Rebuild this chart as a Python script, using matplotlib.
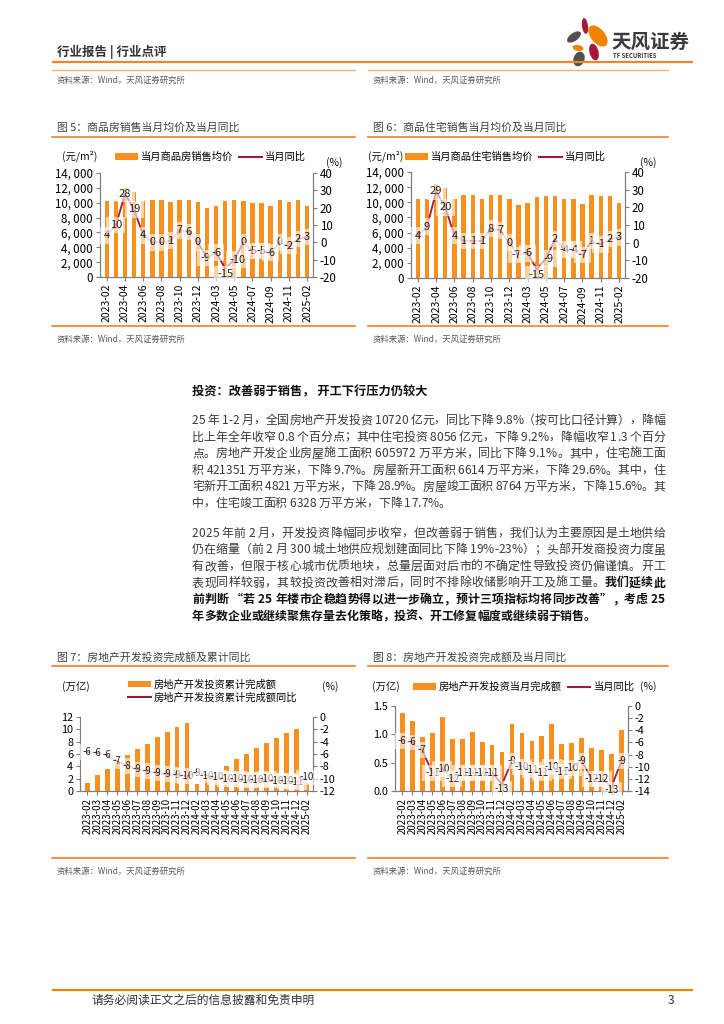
import matplotlib
matplotlib.use('Agg')
import matplotlib.pyplot as plt
from matplotlib.patches import Ellipse, Patch
from matplotlib.lines import Line2D
import numpy as np

plt.rcParams['font.family'] = ['Noto Sans CJK SC', 'DejaVu Sans']
plt.rcParams['axes.unicode_minus'] = False

W, H = 724, 1024
ORANGE = '#F7901E'
RED = '#A3193B'
TXT = '#3A3A3A'

# ---- data ----
months_ab = ['2023-02', '2023-03', '2023-04', '2023-05', '2023-06', '2023-07', '2023-08',
             '2023-09', '2023-10', '2023-11', '2023-12', '2024-02', '2024-03', '2024-04',
             '2024-05', '2024-06', '2024-07', '2024-08', '2024-09', '2024-10', '2024-11',
             '2024-12', '2025-02']

price_all = [10200, 10200, 12000, 11400, 10200, 10400, 10400, 10100, 10400, 10300, 10100, 9300,
             9600, 10200, 10300, 10200, 9900, 9900, 9500, 10400, 10100, 10300, 9600]
yoy_all = [4, 10, 28, 19, 4, 0, 0, 1, 7, 6, 0, -9, -6, -15, -10, 0, -5, -5, -6, 0, -2, 2, 3]

price_res = [10500, 10500, 12400, 11900, 10500, 10900, 10900, 10500, 10900, 10900, 10500, 9700,
             9900, 10700, 10800, 10800, 10400, 10400, 9800, 11000, 10800, 10800, 9900]
yoy_res = [4, 9, 29, 20, 4, 1, 1, 1, 8, 7, 0, -7, -6, -15, -9, 2, -4, -4, -7, 1, -1, 2, 3]

inv_cum = [1.36, 2.62, 3.60, 4.59, 5.86, 6.80, 7.68, 8.71, 9.60, 10.43, 11.09, 1.17, 2.20, 3.02,
           4.07, 5.25, 6.07, 6.93, 7.86, 8.63, 9.35, 10.03, 1.07]
inv_cum_yoy = [-5.7, -5.8, -6.2, -7.2, -7.9, -8.5, -8.8, -9.1, -9.3, -9.4, -9.6, -9.0, -9.5, -9.8,
               -10.1, -10.1, -10.2, -10.2, -10.1, -10.3, -10.4, -10.6, -9.8]

inv_mon = [1.37, 1.23, 0.95, 1.02, 1.30, 0.92, 0.92, 1.05, 0.86, 0.82, 0.68, 1.19, 1.02, 0.89,
           0.97, 1.19, 0.83, 0.85, 0.94, 0.76, 0.72, 0.66, 1.07]
inv_mon_yoy = [-5.8, -6.0, -7.3, -11.0, -10.4, -12.0, -11.0, -11.0, -11.0, -11.0, -12.9, -9.0,
               -10.0, -10.6, -11.0, -10.0, -10.8, -10.2, -9.0, -12.0, -12.0, -13.3, -9.0]

para1 = [
    [("25 年 1-2 月，全国房地产开发投资 10720 亿元，同比下降 9.8%（按可比口径计算），降幅", False)],
    [("比上年全年收窄 0.8 个百分点；其中住宅投资 8056 亿元，下降 9.2%，降幅收窄 1.3 个百分", False)],
    [("点。房地产开发企业房屋施工面积 605972 万平方米，同比下降 9.1%。其中，住宅施工面", False)],
    [("积 421351 万平方米，下降 9.7%。房屋新开工面积 6614 万平方米，下降 29.6%。其中，住", False)],
    [("宅新开工面积 4821 万平方米，下降 28.9%。房屋竣工面积 8764 万平方米，下降 15.6%。其", False)],
    [("中，住宅竣工面积 6328 万平方米，下降 17.7%。", False)],
]
para2 = [
    [("2025 年前 2 月，开发投资降幅同步收窄，但改善弱于销售，我们认为主要原因是土地供给", False)],
    [("仍在缩量（前 2 月 300 城土地供应规划建面同比下降 19%-23%）；头部开发商投资力度虽", False)],
    [("有改善，但限于核心城市优质地块，总量层面对后市的不确定性导致投资仍偏谨慎。开工", False)],
    [("表现同样较弱，其较投资改善相对滞后，同时不排除收储影响开工及施工量。", False), ("我们延续此", True)],
    [("前判断 “若 25 年楼市企稳趋势得以进一步确立，预计三项指标均将同步改善”，考虑 25", True)],
    [("年多数企业或继续聚焦存量去化策略，投资、开工修复幅度或继续弱于销售。", True)],
]

fig = plt.figure(figsize=(W / 100, H / 100), dpi=100)
page = fig.add_axes([0, 0, 1, 1])
page.set_xlim(0, W)
page.set_ylim(H, 0)
page.axis('off')


def rect(l, t, r, b):
    return [l / W, 1 - b / H, (r - l) / W, (b - t) / H]


def fx(x):
    return x / W


def fy(y):
    return 1 - y / H


def excel_round(v):
    return int(np.sign(v) * np.floor(abs(v) + 0.5))


# ---- page furniture ----
page.text(57, 52, '行业报告 | 行业点评', fontsize=9, fontweight='bold', color='#333333', va='center')
page.plot([53, 692], [62, 62], color='#F0842A', lw=1.6)
for a, b in [(52, 355), (368, 668)]:
    page.plot([a, b], [70, 70], color='#F6B07A', lw=1.0)
    page.text(a + 5, 80, '资料来源：Wind，天风证券研究所', fontsize=6, color='#595959', va='center')

# logo
for (cx, cy, w, h, ang, col) in [(585, 26, 6, 16, -8, '#A6193E'),
                                 (574, 37, 16, 8, -35, '#505050'),
                                 (598, 36, 25, 14, 50, '#F08300'),
                                 (578, 48, 11, 6, 10, '#F08300'),
                                 (594, 52, 9, 17, -15, '#A6193E'),
                                 (579, 59, 11, 15, 20, '#505050')]:
    page.add_patch(Ellipse((cx, cy), w, h, angle=ang, color=col, lw=0))
page.text(611, 42, '天风证券', fontsize=14, fontweight='bold', color='#3A3A3A', va='center')
page.text(613, 56, 'TF SECURITIES', fontsize=4.3, fontweight='bold', color='#3A3A3A', va='center')

titles = [(52, 355, 128, '图 5：商品房销售当月均价及当月同比'),
          (368, 668, 128, '图 6：商品住宅销售当月均价及当月同比'),
          (52, 355, 657, '图 7：房地产开发投资完成额及累计同比'),
          (368, 668, 657, '图 8：房地产开发投资完成额及当月同比')]
for a, b, y, t in titles:
    page.text(a + 5, y, t, fontsize=7.8, color='#404040', va='center')
    page.plot([a, b], [y + 9, y + 9], color='#F0842A', lw=1.2)

for y in [326, 858]:
    for a, b in [(52, 355), (368, 668)]:
        page.plot([a, b], [y, y], color='#F0842A', lw=1.2)
        page.text(a + 5, y + 13, '资料来源：Wind，天风证券研究所', fontsize=6, color='#595959', va='center')

page.plot([53, 692], [990, 990], color='#F08300', lw=1.6)
page.text(92, 1000, '请务必阅读正文之后的信息披露和免责申明', fontsize=8.5, color='#333333', va='center')
page.text(668, 1000, '3', fontsize=8.5, color='#333333', va='center')

# ---- body text (justified) ----
renderer = fig.canvas.get_renderer()
_wcache = {}


def char_w(c, bold, size):
    key = (c, bold, size)
    if key not in _wcache:
        wt = 'bold' if bold else 'normal'
        if c == ' ':
            t1 = page.text(0, 0, 'a a', fontsize=size, fontweight=wt)
            t2 = page.text(0, 0, 'aa', fontsize=size, fontweight=wt)
            w = t1.get_window_extent(renderer).width - t2.get_window_extent(renderer).width
            t1.remove()
            t2.remove()
        else:
            t = page.text(0, 0, c, fontsize=size, fontweight=wt)
            w = t.get_window_extent(renderer).width
            t.remove()
        _wcache[key] = w
    return _wcache[key]


def text_line(x0, ybase, segs, size, target=None):
    chars = [(c, b) for s, b in segs for c in s]
    ws = [char_w(c, b, size) for c, b in chars]
    extra = 0.0
    if target is not None:
        extra = (target - sum(ws)) / (len(chars) - 1)
    x = x0
    for (c, b), w in zip(chars, ws):
        if c != ' ':
            page.text(x, ybase, c, fontsize=size, fontweight='bold' if b else 'normal',
                      color='#111111' if b else TXT, va='baseline', ha='left')
        x += w + extra


BODY = 8.6
X0, X1 = 192, 665
page.text(X0, 392, '投资：改善弱于销售， 开工下行压力仍较大', fontsize=8.8, fontweight='bold',
          color='#111111', va='center')
step = 16.6
y = 424
for i, segs in enumerate(para1):
    last = i == len(para1) - 1
    text_line(X0, y, segs, BODY, None if last else X1 - X0)
    y += step
y += 13
for i, segs in enumerate(para2):
    last = i == len(para2) - 1
    text_line(X0, y, segs, BODY, None if last else X1 - X0)
    y += step


# ---- charts ----
def combo(px, labels, bars, line, ylim1, yt1, fmt1, ylim2, yt2, every, lab_size, xlab_size,
          ylab_size, nudge=None):
    nudge = nudge or {}
    ax = fig.add_axes(rect(*px))
    x = np.arange(len(labels))
    ax.bar(x, bars, width=0.48, color=ORANGE, zorder=1)
    ax.set_xlim(-0.75, len(labels) - 0.35)
    ax.set_ylim(*ylim1)
    ax.set_yticks(yt1)
    ax.set_yticklabels([fmt1(v) for v in yt1])
    ax2 = ax.twinx()
    ax2.plot(x, line, color=RED, lw=1.3, zorder=2)
    ax2.set_ylim(*ylim2)
    ax2.set_yticks(yt2)
    for i, v in enumerate(line):
        dx, dy = nudge.get(i, (0, 0))
        ax2.text(i + dx, v + dy, str(excel_round(v)), ha='center', va='center', fontsize=lab_size,
                 color='#222222', zorder=3,
                 bbox=dict(boxstyle='square,pad=0.3', fc='white', ec='none', alpha=0.6))
    ticks = x[::every]
    ax.set_xticks(ticks)
    ax.set_xticklabels([labels[i] for i in ticks], rotation=90)
    for a in (ax, ax2):
        a.spines['top'].set_visible(False)
        for s in ('left', 'right', 'bottom'):
            a.spines[s].set_color('#7F7F7F')
            a.spines[s].set_linewidth(0.8)
        a.tick_params(axis='both', direction='out', length=3, width=0.8, color='#7F7F7F',
                      labelsize=ylab_size, pad=2)
        a.patch.set_visible(False)
    ax.tick_params(axis='x', labelsize=xlab_size)
    return ax, ax2


def legend(x, y, items, ncol, size=7.4):
    handles = []
    for kind, _ in items:
        if kind == 'bar':
            handles.append(Patch(fc=ORANGE, ec='none'))
        else:
            handles.append(Line2D([], [], color=RED, lw=1.5))
    fig.legend(handles, [t for _, t in items], loc='center left',
               bbox_to_anchor=(fx(x), fy(y)), bbox_transform=fig.transFigure, ncol=ncol,
               frameon=False, fontsize=size, handlelength=2.2, handleheight=0.55,
               handletextpad=0.3, columnspacing=0.6, borderpad=0, borderaxespad=0,
               labelspacing=0.25)


comma = lambda v: f'{v:,.0f}'.replace(',', ', ')
combo((100, 173, 313, 277), months_ab, price_all, yoy_all, (0, 14000), range(0, 14001, 2000),
      comma, (-20, 40), range(-20, 41, 10), 2, 8.0, 7.5, 8.3,
      nudge={13: (0, -3.2), 14: (0.35, 0), 11: (-0.2, 0)})
combo((411, 172, 625, 278), months_ab, price_res, yoy_res, (0, 14000), range(0, 14001, 2000),
      comma, (-20, 40), range(-20, 41, 10), 2, 8.0, 7.5, 8.3,
      nudge={13: (0, -3.2), 14: (0.3, 0), 11: (-0.2, 0)})
combo((80, 717, 313, 791), months_ab, inv_cum, inv_cum_yoy, (0, 12), range(0, 13, 2),
      lambda v: f'{v:.0f}', (-12, 0), range(-12, 1, 2), 1, 7, 7, 7.8)
combo((395, 706, 628, 791), months_ab, inv_mon, inv_mon_yoy, (0, 1.5), [0, 0.5, 1.0, 1.5],
      lambda v: f'{v:.1f}', (-14, 0), range(-14, 1, 2), 1, 7, 7, 7.8,
      nudge={10: (0, -0.8), 21: (0, -0.6)})

legend(115, 157, [('bar', '当月商品房销售均价'), ('line', '当月同比')], 2)
legend(405, 157, [('bar', '当月商品住宅销售均价'), ('line', '当月同比')], 2)
legend(128, 691, [('bar', '房地产开发投资累计完成额'), ('line', '房地产开发投资累计完成额同比')], 1)
legend(413, 687, [('bar', '房地产开发投资当月完成额'), ('line', '当月同比')], 2)

for x, y, t in [(62, 156, '(元/m²)'), (326, 163, '(%)'), (368, 156, '(元/m²)'), (640, 163, '(%)'),
                (62, 687, '(万亿)'), (322, 687, '(%)'), (372, 687, '(万亿)'), (640, 687, '(%)')]:
    page.text(x, y, t, fontsize=7.5, color='#111111', va='center')

fig.savefig('out.png', dpi=100)
